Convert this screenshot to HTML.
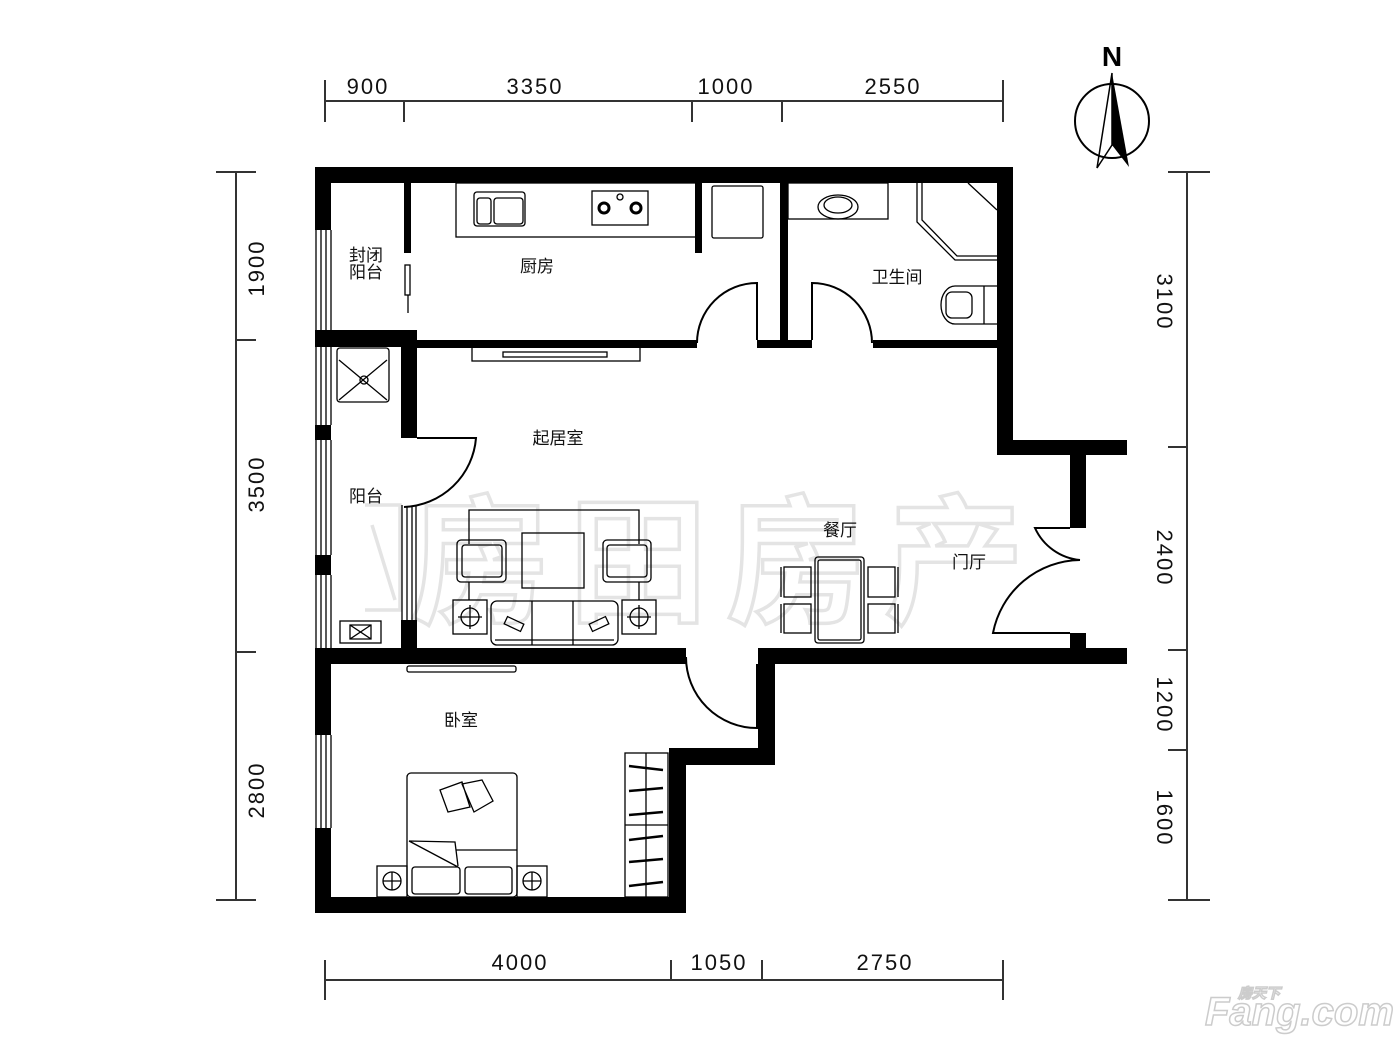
<!DOCTYPE html>
<html><head><meta charset="utf-8"><style>html,body{margin:0;padding:0;background:#fff}svg{display:block}</style></head>
<body>
<svg width="1400" height="1050" viewBox="0 0 1400 1050" xmlns="http://www.w3.org/2000/svg" font-family="'Liberation Sans','Noto Sans CJK SC',sans-serif">
<rect width="1400" height="1050" fill="#fff"/>
<!-- watermark -->
<g fill="none" stroke="#e4e4e4" stroke-width="3.5" font-size="140" font-family="'Noto Sans CJK SC',sans-serif">
<text x="410" y="612" style="font-weight:bold" letter-spacing="18">房田房产</text>
<path d="M365 505 L400 505 L400 610 L365 610 M372 525 L395 600"/>
</g>
<!-- dimension lines -->
<g stroke="#333" stroke-width="2" fill="none">
<line x1="325" y1="101" x2="1003" y2="101"/>
<line x1="325" y1="80" x2="325" y2="122"/><line x1="404" y1="101" x2="404" y2="122"/><line x1="692" y1="101" x2="692" y2="122"/><line x1="782" y1="101" x2="782" y2="122"/><line x1="1003" y1="80" x2="1003" y2="122"/>
<line x1="325" y1="980" x2="1003" y2="980"/>
<line x1="325" y1="960" x2="325" y2="1000"/><line x1="671" y1="960" x2="671" y2="980"/><line x1="762" y1="960" x2="762" y2="980"/><line x1="1003" y1="960" x2="1003" y2="1000"/>
<line x1="236" y1="172" x2="236" y2="900"/>
<line x1="216" y1="172" x2="256" y2="172"/><line x1="236" y1="340" x2="256" y2="340"/><line x1="236" y1="652" x2="256" y2="652"/><line x1="216" y1="900" x2="256" y2="900"/>
<line x1="1187" y1="172" x2="1187" y2="900"/>
<line x1="1168" y1="172" x2="1210" y2="172"/><line x1="1168" y1="447" x2="1187" y2="447"/><line x1="1168" y1="650" x2="1187" y2="650"/><line x1="1168" y1="750" x2="1187" y2="750"/><line x1="1168" y1="900" x2="1210" y2="900"/>
</g>
<g font-size="22" fill="#111" letter-spacing="2" text-anchor="middle">
<text x="368" y="94">900</text><text x="535" y="94">3350</text><text x="726" y="94">1000</text><text x="893" y="94">2550</text>
<text x="520" y="970">4000</text><text x="719" y="970">1050</text><text x="885" y="970">2750</text>
<text transform="translate(264,268) rotate(-90)">1900</text>
<text transform="translate(264,484) rotate(-90)">3500</text>
<text transform="translate(264,790) rotate(-90)">2800</text>
<text transform="translate(1157,302) rotate(90)">3100</text>
<text transform="translate(1157,558) rotate(90)">2400</text>
<text transform="translate(1157,705) rotate(90)">1200</text>
<text transform="translate(1157,818) rotate(90)">1600</text>
</g>
<!-- north -->
<text x="1112" y="66" font-size="28" font-weight="bold" text-anchor="middle">N</text>
<circle cx="1112" cy="121" r="37" fill="none" stroke="#000" stroke-width="2"/>
<path d="M1112 73 L1097 168 L1112 145 Z" fill="none" stroke="#000" stroke-width="1.5"/>
<path d="M1112 73 L1129 167 L1112 145 Z" fill="#000"/>
<!-- walls -->
<g fill="#000">
<rect x="315" y="167" width="698" height="16"/>
<rect x="315" y="167" width="16" height="63"/>
<rect x="315" y="330" width="102" height="17"/>
<rect x="315" y="425" width="16" height="15"/>
<rect x="315" y="555" width="16" height="20"/>
<rect x="315" y="648" width="16" height="87"/>
<rect x="315" y="828" width="16" height="85"/>
<rect x="315" y="897" width="371" height="16"/>
<rect x="997" y="167" width="16" height="288"/>
<rect x="997" y="440" width="130" height="15"/>
<rect x="1070" y="455" width="16" height="73"/>
<rect x="1070" y="633" width="16" height="17"/>
<rect x="758" y="648" width="369" height="16"/>
<rect x="758" y="648" width="17" height="117"/>
<rect x="670" y="748" width="105" height="17"/>
<rect x="669" y="748" width="17" height="165"/>
<rect x="315" y="648" width="371" height="16"/>
<rect x="401" y="330" width="16" height="108"/>
<rect x="401" y="620" width="16" height="30"/>
<rect x="417" y="340" width="280" height="8"/>
<rect x="757" y="340" width="55" height="8"/>
<rect x="873" y="340" width="124" height="8"/>
<rect x="404" y="183" width="7" height="70"/>
<rect x="780" y="183" width="8" height="164"/>
<rect x="695" y="183" width="7" height="70"/>
</g>
<!-- windows -->
<g stroke="#000" stroke-width="1.3" fill="none">
<path d="M316 230V330M321 230V330M326 230V330M331 230V330"/>
<path d="M316 347V425M321 347V425M326 347V425M331 347V425"/>
<path d="M316 440V555M321 440V555M326 440V555M331 440V555"/>
<path d="M316 575V648M321 575V648M326 575V648M331 575V648"/>
<path d="M316 735V828M321 735V828M326 735V828M331 735V828"/>
<path d="M402 505V620M407 507V620M412 507V620M416 505V620"/>
<rect x="405" y="265" width="5" height="30"/><line x1="408" y1="295" x2="408" y2="313"/>
<!-- doors -->
<path d="M757 340V283A60 60 0 0 0 697 343" stroke-width="2"/>
<path d="M812 340V283A60 60 0 0 1 872 343" stroke-width="2"/>
<path d="M417 438H476A75 75 0 0 1 404 507" stroke-width="2"/>
<path d="M686 657A71 71 0 0 0 757 728V664" stroke-width="2"/>
<path d="M1070 528H1035A55 55 0 0 0 1080 560" stroke-width="2"/>
<path d="M1070 633H993A90 90 0 0 1 1080 560" stroke-width="2"/>
</g>
<!-- furniture -->
<g stroke="#000" stroke-width="1.3" fill="none">
<rect x="456" y="183" width="241" height="54"/>
<rect x="474" y="192" width="51" height="34" rx="3"/><rect x="477" y="198" width="14" height="26" rx="3"/><rect x="494" y="198" width="29" height="26" rx="3"/>
<rect x="592" y="191" width="56" height="34"/><circle cx="604" cy="208" r="5" stroke-width="3"/><circle cx="636" cy="208" r="5" stroke-width="3"/><circle cx="620" cy="197" r="3"/>
<rect x="712" y="186" width="51" height="52" rx="2"/>
<rect x="472" y="347" width="168" height="14"/><rect x="503" y="352" width="104" height="5"/>
<rect x="788" y="183" width="100" height="36"/><ellipse cx="838" cy="207" rx="20" ry="12"/><ellipse cx="838" cy="205" rx="14" ry="8"/>
<path d="M917 183V222L955 260H997M922 183V220L957 256H997M968 183L997 210"/>
<path d="M997 286H955A14 19 0 0 0 955 324H997"/><rect x="946" y="292" width="26" height="26" rx="6"/><line x1="984" y1="286" x2="984" y2="324"/>
<rect x="337" y="348" width="52" height="54" rx="3"/><path d="M339 360L387 400M387 360L339 400"/><circle cx="364" cy="380" r="4"/>
<rect x="340" y="621" width="41" height="22"/><path d="M350 625H371V639H350ZM350 625L371 639M371 625L350 639"/>
<path d="M469 544V510H639V544"/>
<rect x="457" y="540" width="49" height="42" rx="4"/><rect x="462" y="545" width="40" height="32" rx="3"/>
<rect x="603" y="540" width="48" height="42" rx="4"/><rect x="607" y="545" width="40" height="32" rx="3"/>
<rect x="522" y="533" width="62" height="55"/>
<path d="M469 582V600M639 582V600"/>
<rect x="453" y="600" width="34" height="34"/><circle cx="470" cy="617" r="9"/><path d="M458 617H482M470 605V629"/>
<rect x="622" y="600" width="34" height="34"/><circle cx="639" cy="617" r="9"/><path d="M627 617H651M639 605V629"/>
<rect x="491" y="601" width="127" height="44" rx="6"/><path d="M532 601V645M573 601V645M495 640H614"/>
<rect x="505" y="620" width="18" height="8" transform="rotate(25 514 624)"/><rect x="590" y="620" width="18" height="8" transform="rotate(-25 599 624)"/>
<rect x="815" y="557" width="49" height="86" rx="3"/><rect x="818" y="560" width="43" height="80" rx="2"/>
<rect x="784" y="567" width="27" height="30"/><rect x="784" y="604" width="27" height="29"/><path d="M781 567V597M781 604V633"/>
<rect x="868" y="567" width="27" height="30"/><rect x="868" y="604" width="27" height="29"/><path d="M898 567V597M898 604V633"/>
<rect x="407" y="666" width="109" height="6" rx="2"/>
<rect x="407" y="773" width="110" height="124" rx="4"/><path d="M456 850H517M409 841L455 842L458 866M409 841L458 867"/>
<rect x="412" y="867" width="48" height="27" rx="3"/><rect x="465" y="867" width="47" height="27" rx="3"/>
<path d="M440 790L462 782L470 807L448 812ZM462 784L482 780L493 801L474 812Z"/>
<rect x="377" y="866" width="30" height="31"/><circle cx="392" cy="881" r="9"/><path d="M383 881H401M392 872V890"/>
<rect x="517" y="866" width="30" height="31"/><circle cx="532" cy="881" r="9"/><path d="M523 881H541M532 872V890"/>
<rect x="625" y="753" width="43" height="144"/><path d="M646 753V897M625 825H668"/>
<path d="M629 766L663 770M629 791L663 788M629 815L663 812M629 840L663 836M629 862L663 859M629 886L663 882" stroke-width="2.5"/>
</g>
<!-- labels -->
<g font-size="17" fill="#111" text-anchor="middle" font-family="'Noto Sans CJK SC',sans-serif">
<text x="366" y="261">封闭</text><text x="366" y="278">阳台</text>
<text x="537" y="272">厨房</text>
<text x="897" y="283">卫生间</text>
<text x="558" y="444">起居室</text>
<text x="366" y="502">阳台</text>
<text x="840" y="536">餐厅</text>
<text x="969" y="568">门厅</text>
<text x="461" y="726">卧室</text>
</g>
<!-- logo -->
<g fill="#fff" stroke="#ccc" stroke-width="1.5" font-weight="bold" font-style="italic">
<text x="1205" y="1025" font-size="40">Fang.com</text>
<text x="1238" y="998" font-size="14" font-family="'Noto Sans CJK SC',sans-serif">房天下</text>
</g>
</svg>
</body></html>
